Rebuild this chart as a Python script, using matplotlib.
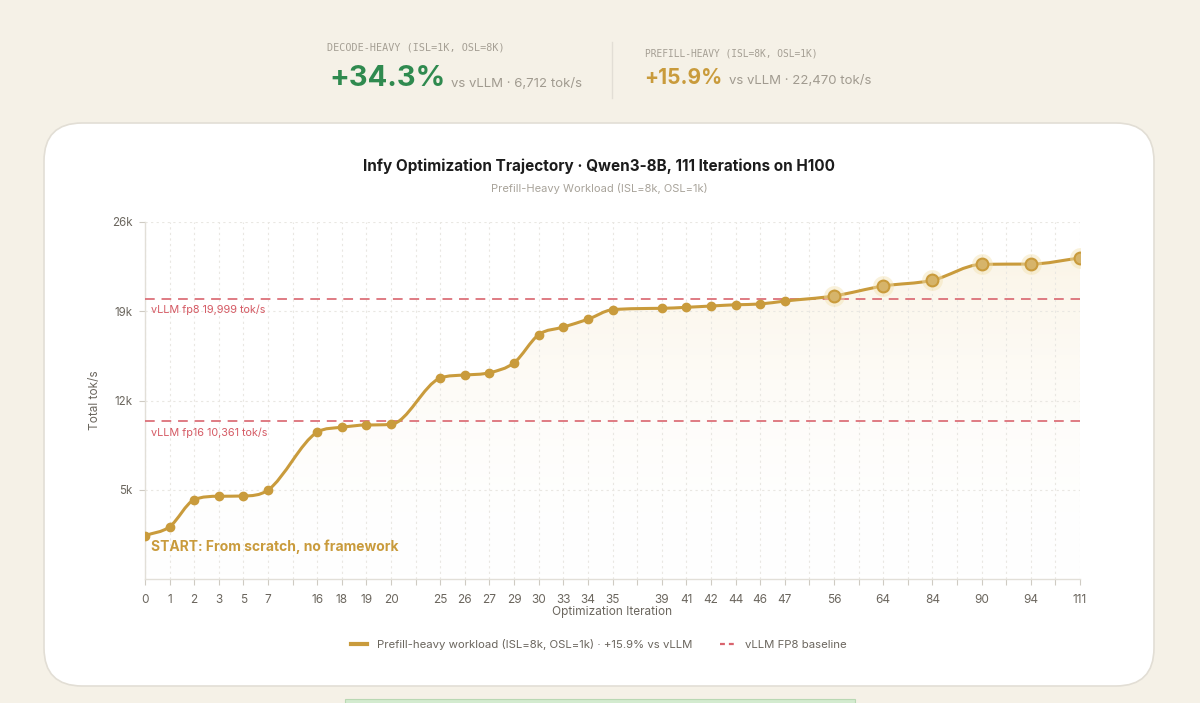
import numpy as np
import matplotlib
matplotlib.use("Agg")
import matplotlib.pyplot as plt
from matplotlib.path import Path
from matplotlib.patches import PathPatch, FancyBboxPatch, Rectangle
from matplotlib.lines import Line2D
from matplotlib.colors import LinearSegmentedColormap

plt.rcParams['font.family'] = ['Inter', 'DejaVu Sans']

# data
iterations = [0, 1, 2, 3, 5, 7, 16, 18, 19, 20, 25, 26, 27, 29, 30, 33, 34, 35,
              39, 41, 42, 44, 46, 47, 56, 64, 84, 90, 94, 111]
slots = [0, 1, 2, 3, 4, 5, 7, 8, 9, 10, 12, 13, 14, 15, 16, 17, 18, 19,
         21, 22, 23, 24, 25, 26, 28, 30, 32, 34, 36, 38]
throughput = [1400, 2100, 4220, 4490, 4510, 4980, 9510, 9900, 10080, 10130,
              13760, 14000, 14180, 14960, 17160, 17760, 18370, 19120,
              19230, 19310, 19410, 19510, 19570, 19800,
              20200, 20980, 21430, 22680, 22700, 23180]
n_highlight = 6  # last points drawn as big circles
fp8_base = 19999
fp16_base = 10361
y_ticks = [5000, 12000, 19000, 26000]
y_ticklabels = ['5k', '12k', '19k', '26k']

GOLD = '#c99b3c'
RED = '#d9646e'
GREEN = '#2f8a4f'

W, H = 1200, 703
fig = plt.figure(figsize=(W / 100, H / 100), dpi=100)
fig.patch.set_facecolor('#f5f1e7')

# background layer in pixel coordinates
bg = fig.add_axes([0, 0, 1, 1], zorder=-10)
bg.set_xlim(0, W)
bg.set_ylim(H, 0)
bg.axis('off')
bg.add_patch(FancyBboxPatch((44, 123), 1110, 563,
                            boxstyle="round,pad=0,rounding_size=38",
                            fc='white', ec='#e2ded5', lw=1.2))
bg.add_patch(Rectangle((345, 699), 510, 10, fc='#d3ebcf', ec='#b9d8b3', lw=0.8))
bg.plot([612, 612], [42, 98], color='#e2ded5', lw=1)

# header stats
bg.text(327, 48, 'DECODE-HEAVY (ISL=1K, OSL=8K)', family='DejaVu Sans Mono',
        fontsize=7.3, color='#a59f94', va='center')
bg.text(329, 78, '+34.3%', fontsize=21, fontweight='bold', color=GREEN, va='center')
bg.text(451, 84, 'vs vLLM · 6,712 tok/s', fontsize=9.5, color='#a19b90', va='center')
bg.text(645, 54, 'PREFILL-HEAVY (ISL=8K, OSL=1K)', family='DejaVu Sans Mono',
        fontsize=6.9, color='#a59f94', va='center')
bg.text(644, 78, '+15.9%', fontsize=15, fontweight='bold', color=GOLD, va='center')
bg.text(729, 81, 'vs vLLM · 22,470 tok/s', fontsize=9.5, color='#a19b90', va='center')

# titles
bg.text(599, 166, 'Infy Optimization Trajectory · Qwen3-8B, 111 Iterations on H100',
        fontsize=11, fontweight='bold', color='#1c1c1c', ha='center', va='center')
bg.text(599, 188, 'Prefill-Heavy Workload (ISL=8k, OSL=1k)',
        fontsize=8, color='#a8a39a', ha='center', va='center')

# main axes
x0, x1, ytop, ybot = 145, 1080, 222, 579
ax = fig.add_axes([x0 / W, 1 - ybot / H, (x1 - x0) / W, (ybot - ytop) / H])
ax.set_facecolor('none')
ax.set_xlim(0, 38)
ax.set_ylim(-2000, 26000)

# monotone cubic path through the points
xs = np.array(slots, dtype=float)
ys = np.array(throughput, dtype=float)
d = np.diff(ys) / np.diff(xs)
m = np.zeros_like(ys)
m[0], m[-1] = d[0], d[-1]
for i in range(1, len(ys) - 1):
    if d[i - 1] * d[i] <= 0:
        m[i] = 0
    else:
        m[i] = (d[i - 1] + d[i]) / 2
for i in range(len(d)):
    if d[i] == 0:
        m[i] = m[i + 1] = 0
        continue
    a, b = m[i] / d[i], m[i + 1] / d[i]
    s = a * a + b * b
    if s > 9:
        t = 3 / np.sqrt(s)
        m[i], m[i + 1] = t * a * d[i], t * b * d[i]

verts = [(xs[0], ys[0])]
codes = [Path.MOVETO]
for i in range(len(xs) - 1):
    h = (xs[i + 1] - xs[i]) / 3
    verts += [(xs[i] + h, ys[i] + m[i] * h),
              (xs[i + 1] - h, ys[i + 1] - m[i + 1] * h),
              (xs[i + 1], ys[i + 1])]
    codes += [Path.CURVE4] * 3
line_path = Path(verts, codes)

fill_path = Path(verts + [(xs[-1], -2000), (xs[0], -2000), (xs[0], ys[0])],
                 codes + [Path.LINETO, Path.LINETO, Path.CLOSEPOLY])
clip = PathPatch(fill_path, fc='none', ec='none', transform=ax.transData)
ax.add_patch(clip)
cmap = LinearSegmentedColormap.from_list('fade', [(1, 1, 1, 0), (0.95, 0.88, 0.72, 0.4)])
grad = np.linspace(0, 1, 256).reshape(-1, 1)
im = ax.imshow(grad, extent=[0, 38, -2000, 26000], origin='lower', cmap=cmap,
               aspect='auto', zorder=1)
im.set_clip_path(clip)

ax.add_patch(PathPatch(line_path, fc='none', ec=GOLD, lw=2.2, zorder=4))

# baselines
ax.axhline(fp8_base, color=RED, lw=1.4, ls=(0, (5, 3.5)), alpha=0.85, zorder=3)
ax.axhline(fp16_base, color=RED, lw=1.4, ls=(0, (5, 3.5)), alpha=0.85, zorder=3)
ax.text(0.25, fp8_base - 450, 'vLLM fp8 19,999 tok/s', color='#d55a64', fontsize=7.8,
        va='top', zorder=5)
ax.text(0.25, fp16_base - 450, 'vLLM fp16 10,361 tok/s', color='#d55a64', fontsize=7.8,
        va='top', zorder=5)

# markers
ax.plot(xs[:-n_highlight], ys[:-n_highlight], 'o', color=GOLD, ms=6, zorder=5)
ax.plot(xs[-n_highlight:], ys[-n_highlight:], 'o', color='#f3e2b0', ms=15,
        alpha=0.45, mec='none', zorder=4)
ax.plot(xs[-n_highlight:], ys[-n_highlight:], 'o', mfc='#d6b46a', mec=GOLD,
        mew=1.5, ms=8.5, zorder=5)

ax.text(0.25, 550, 'START: From scratch, no framework', color=GOLD, fontsize=10,
        fontweight='bold', va='center', zorder=5)

# axes styling
ax.set_xticks(range(39))
ax.set_xticklabels([str(iterations[slots.index(k)]) if k in slots else '' for k in range(39)])
ax.set_yticks(y_ticks)
ax.set_yticklabels(y_ticklabels)
ax.tick_params(axis='x', colors='#cfcbc3', labelcolor='#6b665e', labelsize=8.5,
               length=4, width=0.8, pad=7)
ax.tick_params(axis='y', colors='#cfcbc3', labelcolor='#6b665e', labelsize=8.3,
               length=4, width=0.8, pad=5)
ax.grid(True, color='#e9e7e2', lw=0.8, ls=(0, (2, 3)), zorder=0)
for sp in ['top', 'right']:
    ax.spines[sp].set_visible(False)
for sp in ['left', 'bottom']:
    ax.spines[sp].set_color('#e2dfd8')
    ax.spines[sp].set_linewidth(1)
ax.set_xlabel('Optimization Iteration', fontsize=8.5, color='#6b665e', labelpad=0)
ax.set_ylabel('Total tok/s', fontsize=8.5, color='#6b665e', labelpad=8)

handles = [Line2D([], [], color=GOLD, lw=3),
           Line2D([], [], color=RED, lw=1.6, ls=(0, (2.2, 1.8)))]
leg = fig.legend(handles, ['Prefill-heavy workload (ISL=8k, OSL=1k) · +15.9% vs vLLM',
                           'vLLM FP8 baseline'],
                 loc='center', bbox_to_anchor=(599 / W, 1 - 644 / H), ncol=2,
                 frameon=False, fontsize=8.2, handlelength=1.35, columnspacing=2.4,
                 handletextpad=0.9)
for t in leg.get_texts():
    t.set_color('#6b665e')

fig.savefig('out.png', dpi=100, facecolor=fig.get_facecolor())
